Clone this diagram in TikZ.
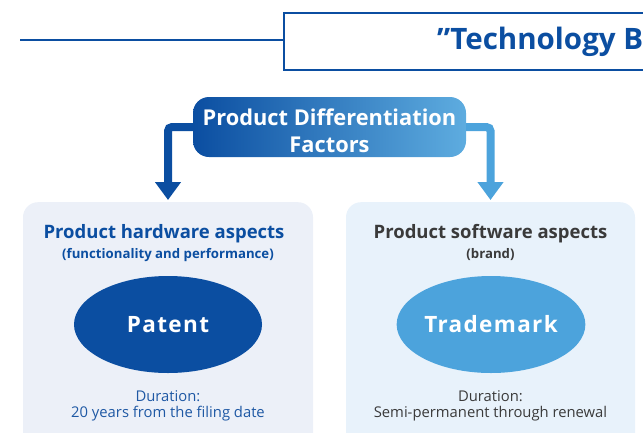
\documentclass[tikz,border=0pt]{standalone}
\usepackage{fontspec}
\setmainfont{Open Sans}
\usepackage{tikz}
\usetikzlibrary{arrows.meta,positioning,shapes.geometric}
\usepackage{xcolor}
\definecolor{cDark}{HTML}{0B4EA1}
\definecolor{cMid}{HTML}{0C70BB}
\definecolor{cLight}{HTML}{4CA3DC}
\definecolor{cPanelL}{HTML}{ECF0F8}
\definecolor{cPanelR}{HTML}{E8F2FB}
\definecolor{cGrey}{HTML}{3A3A3A}
\definecolor{cDurL}{HTML}{1E58A4}

\begin{document}
\begin{tikzpicture}[
  x=1pt, y=-1pt,
  % -- khung, nhan, mui ten --
  ttlbox/.style={draw=cDark, line width=2.2pt, fill=white, anchor=north west,
                 minimum width=420pt, minimum height=57pt, inner sep=0pt},
  ttltxt/.style={font=\fontsize{29.5}{33}\selectfont\bfseries, text=cDark,
                 anchor=west, inner sep=0pt},
  pill/.style={rounded corners=16pt, left color=cDark, middle color=cMid,
               right color=cLight!90!white, minimum width=273pt, minimum height=60pt,
               align=center, text=white, inner sep=0pt, text height=50pt, text depth=0pt,
               font=\fontsize{21.8}{27}\selectfont\bfseries},
  panel/.style={rounded corners=15pt, anchor=north, minimum width=290pt,
                minimum height=260pt, inner sep=0pt},
  hd/.style={font=\fontsize{18.5}{22}\selectfont\bfseries, anchor=base, inner sep=0pt},
  sub/.style={font=\fontsize{13.2}{15}\selectfont\bfseries, anchor=base, inner sep=0pt},
  oval/.style={ellipse, minimum width=188pt, minimum height=97pt, inner sep=0pt,
               text=white, font=\fontsize{22.5}{26}\selectfont\bfseries\addfontfeatures{LetterSpace=6}},
  dur/.style={font=\fontsize{14.8}{16.5}\selectfont, align=center, anchor=north, inner sep=0pt},
  arr/.style={-{Triangle[length=18pt,width=25pt]}, line width=8pt, rounded corners=4pt},
]
\useasboundingbox (0,0) rectangle (643,432);
\clip (0,0) rectangle (643,432);

% -- tieu de tren cung --
\coordinate (lnstart) at (20,40);
\node[ttlbox] (ttl) at (283,12) {};
\draw[cDark, line width=1.2pt] (lnstart) -- (lnstart -| ttl.west);
\node[ttltxt] (ttltext) at (437,42) {”Technology B};

% -- hai khung duoi --
\node[panel, fill=cPanelL] (hwbox) at (168,202) {};
\node[panel, fill=cPanelR, minimum width=289pt] (swbox) at (490.5,202) {};

% -- nut giua va mui ten --
\node[pill] (pdf) at (329.5,127) {Product Differentiation\\Factors};
\draw[arr, cDark] (pdf.west) -| ([yshift=2pt]hwbox.north);
\draw[arr, cLight] (pdf.east) -| ([yshift=2pt]swbox.north);

% -- ben trai: phan cung --
\node[hd, text=cDark] (hwhd) at (164,238) {Product hardware aspects};
\node[sub, text=cDark] (hwsub) at (168,258) {(functionality and performance)};
\node[oval, fill=cDark] (pat) at (168,324.5) {Patent};
\node[dur, text=cDurL] (hwdur) at (168,390) {Duration:\\20 years from the filing date};

% -- ben phai: phan mem --
\node[hd, text=cGrey] (swhd) at (490.5,238) {Product software aspects};
\node[sub, text=cGrey] (swsub) at (490.5,258) {(brand)};
\node[oval, fill=cLight] (tm) at (491,324.5) {Trademark};
\node[dur, text=cGrey] (swdur) at (490.5,390) {Duration:\\Semi-permanent through renewal};
\end{tikzpicture}
\end{document}
